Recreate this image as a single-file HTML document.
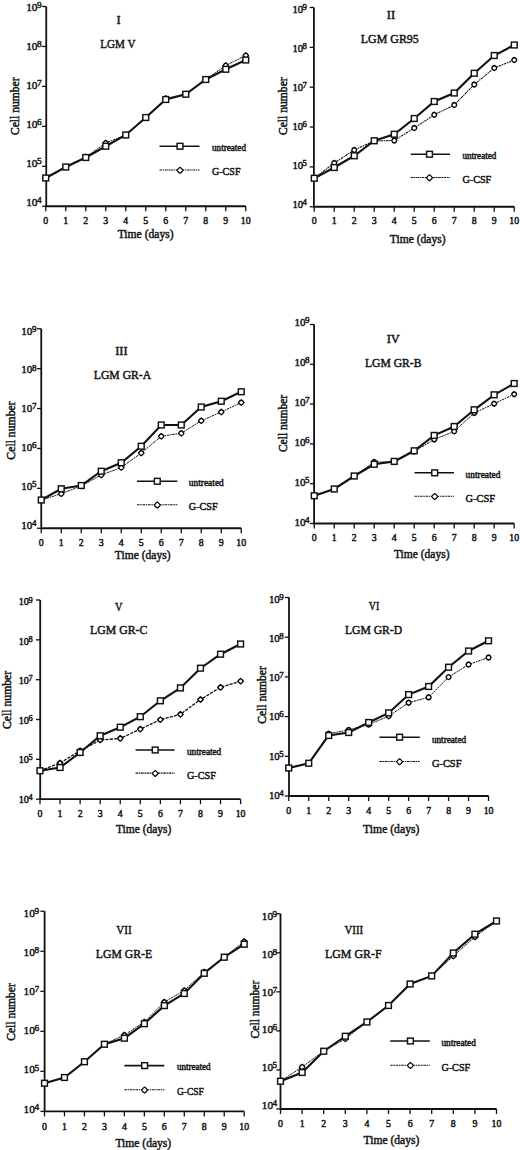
<!DOCTYPE html>
<html><head><meta charset="utf-8"><style>
html,body{margin:0;padding:0;background:#fff;}
svg{display:block;}
text{font-family:"Liberation Serif", serif;fill:#111;}
</style></head><body>
<svg width="520" height="1150" viewBox="0 0 520 1150">
<rect width="520" height="1150" fill="#fff"/>
<path d="M46.25 6.50V206.25H245.75" fill="none" stroke="#111" stroke-width="1.8"/>
<path d="M42.05 206.25H46.25" stroke="#111" stroke-width="1.3"/>
<text x="37.50" y="205.95" font-size="11.3" text-anchor="end" stroke="#111" stroke-width="0.45">10</text>
<text x="37.10" y="203.05" font-size="9.27" stroke="#111" stroke-width="0.45">4</text>
<path d="M42.05 166.30H46.25" stroke="#111" stroke-width="1.3"/>
<text x="37.50" y="167.00" font-size="11.3" text-anchor="end" stroke="#111" stroke-width="0.45">10</text>
<text x="37.10" y="164.10" font-size="9.27" stroke="#111" stroke-width="0.45">5</text>
<path d="M42.05 126.35H46.25" stroke="#111" stroke-width="1.3"/>
<text x="37.50" y="128.05" font-size="11.3" text-anchor="end" stroke="#111" stroke-width="0.45">10</text>
<text x="37.10" y="125.15" font-size="9.27" stroke="#111" stroke-width="0.45">6</text>
<path d="M42.05 86.40H46.25" stroke="#111" stroke-width="1.3"/>
<text x="37.50" y="89.10" font-size="11.3" text-anchor="end" stroke="#111" stroke-width="0.45">10</text>
<text x="37.10" y="86.20" font-size="9.27" stroke="#111" stroke-width="0.45">7</text>
<path d="M42.05 46.45H46.25" stroke="#111" stroke-width="1.3"/>
<text x="37.50" y="50.15" font-size="11.3" text-anchor="end" stroke="#111" stroke-width="0.45">10</text>
<text x="37.10" y="47.25" font-size="9.27" stroke="#111" stroke-width="0.45">8</text>
<path d="M42.05 6.50H46.25" stroke="#111" stroke-width="1.3"/>
<text x="37.50" y="11.20" font-size="11.3" text-anchor="end" stroke="#111" stroke-width="0.45">10</text>
<text x="37.10" y="8.30" font-size="9.27" stroke="#111" stroke-width="0.45">9</text>
<path d="M45.75 206.25V211.25" stroke="#111" stroke-width="1.3"/>
<text x="45.75" y="223.55" font-size="9.8" text-anchor="middle" stroke="#111" stroke-width="0.45">0</text>
<path d="M65.75 206.25V211.25" stroke="#111" stroke-width="1.3"/>
<text x="65.75" y="223.55" font-size="9.8" text-anchor="middle" stroke="#111" stroke-width="0.45">1</text>
<path d="M85.75 206.25V211.25" stroke="#111" stroke-width="1.3"/>
<text x="85.75" y="223.55" font-size="9.8" text-anchor="middle" stroke="#111" stroke-width="0.45">2</text>
<path d="M105.75 206.25V211.25" stroke="#111" stroke-width="1.3"/>
<text x="105.75" y="223.55" font-size="9.8" text-anchor="middle" stroke="#111" stroke-width="0.45">3</text>
<path d="M125.75 206.25V211.25" stroke="#111" stroke-width="1.3"/>
<text x="125.75" y="223.55" font-size="9.8" text-anchor="middle" stroke="#111" stroke-width="0.45">4</text>
<path d="M145.75 206.25V211.25" stroke="#111" stroke-width="1.3"/>
<text x="145.75" y="223.55" font-size="9.8" text-anchor="middle" stroke="#111" stroke-width="0.45">5</text>
<path d="M165.75 206.25V211.25" stroke="#111" stroke-width="1.3"/>
<text x="165.75" y="223.55" font-size="9.8" text-anchor="middle" stroke="#111" stroke-width="0.45">6</text>
<path d="M185.75 206.25V211.25" stroke="#111" stroke-width="1.3"/>
<text x="185.75" y="223.55" font-size="9.8" text-anchor="middle" stroke="#111" stroke-width="0.45">7</text>
<path d="M205.75 206.25V211.25" stroke="#111" stroke-width="1.3"/>
<text x="205.75" y="223.55" font-size="9.8" text-anchor="middle" stroke="#111" stroke-width="0.45">8</text>
<path d="M225.75 206.25V211.25" stroke="#111" stroke-width="1.3"/>
<text x="225.75" y="223.55" font-size="9.8" text-anchor="middle" stroke="#111" stroke-width="0.45">9</text>
<path d="M245.75 206.25V211.25" stroke="#111" stroke-width="1.3"/>
<text x="245.75" y="223.55" font-size="9.8" text-anchor="middle" stroke="#111" stroke-width="0.45">10</text>
<text x="118.70" y="24.00" font-size="12.5" text-anchor="middle" stroke="#111" stroke-width="0.45">I</text>
<text x="100.20" y="48.00" font-size="12.5" textLength="35.2" lengthAdjust="spacingAndGlyphs" stroke="#111" stroke-width="0.45">LGM V</text>
<text x="117.70" y="237.90" font-size="12" textLength="56" lengthAdjust="spacingAndGlyphs" stroke="#111" stroke-width="0.45">Time (days)</text>
<text transform="translate(19.20 106.25) rotate(-90)" x="0" y="0" font-size="12" text-anchor="middle" textLength="57.5" lengthAdjust="spacingAndGlyphs" stroke="#111" stroke-width="0.45">Cell number</text>
<polyline points="45.75,178.00 65.75,167.00 85.75,157.00 105.75,143.00 125.75,135.00 145.75,117.50 165.75,98.50 185.75,94.00 205.75,79.50 225.75,65.50 245.75,55.50" fill="none" stroke="#111" stroke-width="1.0" stroke-dasharray="2.6 0.7 1.5 0.7"/>
<polyline points="45.75,178.00 65.75,167.00 85.75,157.50 105.75,146.25 125.75,135.00 145.75,117.50 165.75,99.50 185.75,94.25 205.75,79.50 225.75,69.25 245.75,60.00" fill="none" stroke="#111" stroke-width="2.1"/>
<path d="M45.75 175.30Q47.51 176.25 48.45 178.00Q47.51 179.75 45.75 180.70Q43.99 179.75 43.05 178.00Q43.99 176.25 45.75 175.30Z" fill="#fff" stroke="#000" stroke-width="1.4" stroke-linejoin="round"/>
<path d="M65.75 164.30Q67.50 165.25 68.45 167.00Q67.50 168.75 65.75 169.70Q63.99 168.75 63.05 167.00Q63.99 165.25 65.75 164.30Z" fill="#fff" stroke="#000" stroke-width="1.4" stroke-linejoin="round"/>
<path d="M85.75 154.30Q87.50 155.25 88.45 157.00Q87.50 158.75 85.75 159.70Q84.00 158.75 83.05 157.00Q84.00 155.25 85.75 154.30Z" fill="#fff" stroke="#000" stroke-width="1.4" stroke-linejoin="round"/>
<path d="M105.75 140.30Q107.50 141.25 108.45 143.00Q107.50 144.75 105.75 145.70Q104.00 144.75 103.05 143.00Q104.00 141.25 105.75 140.30Z" fill="#fff" stroke="#000" stroke-width="1.4" stroke-linejoin="round"/>
<path d="M125.75 132.30Q127.50 133.25 128.45 135.00Q127.50 136.75 125.75 137.70Q124.00 136.75 123.05 135.00Q124.00 133.25 125.75 132.30Z" fill="#fff" stroke="#000" stroke-width="1.4" stroke-linejoin="round"/>
<path d="M145.75 114.80Q147.50 115.75 148.45 117.50Q147.50 119.25 145.75 120.20Q144.00 119.25 143.05 117.50Q144.00 115.75 145.75 114.80Z" fill="#fff" stroke="#000" stroke-width="1.4" stroke-linejoin="round"/>
<path d="M165.75 95.80Q167.50 96.75 168.45 98.50Q167.50 100.25 165.75 101.20Q164.00 100.25 163.05 98.50Q164.00 96.75 165.75 95.80Z" fill="#fff" stroke="#000" stroke-width="1.4" stroke-linejoin="round"/>
<path d="M185.75 91.30Q187.50 92.25 188.45 94.00Q187.50 95.75 185.75 96.70Q184.00 95.75 183.05 94.00Q184.00 92.25 185.75 91.30Z" fill="#fff" stroke="#000" stroke-width="1.4" stroke-linejoin="round"/>
<path d="M205.75 76.80Q207.50 77.75 208.45 79.50Q207.50 81.25 205.75 82.20Q204.00 81.25 203.05 79.50Q204.00 77.75 205.75 76.80Z" fill="#fff" stroke="#000" stroke-width="1.4" stroke-linejoin="round"/>
<path d="M225.75 62.80Q227.50 63.74 228.45 65.50Q227.50 67.25 225.75 68.20Q224.00 67.25 223.05 65.50Q224.00 63.74 225.75 62.80Z" fill="#fff" stroke="#000" stroke-width="1.4" stroke-linejoin="round"/>
<path d="M245.75 52.80Q247.50 53.74 248.45 55.50Q247.50 57.26 245.75 58.20Q244.00 57.26 243.05 55.50Q244.00 53.74 245.75 52.80Z" fill="#fff" stroke="#000" stroke-width="1.4" stroke-linejoin="round"/>
<rect x="42.85" y="175.10" width="5.8" height="5.8" fill="#fff" stroke="#111" stroke-width="1.45"/>
<rect x="62.85" y="164.10" width="5.8" height="5.8" fill="#fff" stroke="#111" stroke-width="1.45"/>
<rect x="82.85" y="154.60" width="5.8" height="5.8" fill="#fff" stroke="#111" stroke-width="1.45"/>
<rect x="102.85" y="143.35" width="5.8" height="5.8" fill="#fff" stroke="#111" stroke-width="1.45"/>
<rect x="122.85" y="132.10" width="5.8" height="5.8" fill="#fff" stroke="#111" stroke-width="1.45"/>
<rect x="142.85" y="114.60" width="5.8" height="5.8" fill="#fff" stroke="#111" stroke-width="1.45"/>
<rect x="162.85" y="96.60" width="5.8" height="5.8" fill="#fff" stroke="#111" stroke-width="1.45"/>
<rect x="182.85" y="91.35" width="5.8" height="5.8" fill="#fff" stroke="#111" stroke-width="1.45"/>
<rect x="202.85" y="76.60" width="5.8" height="5.8" fill="#fff" stroke="#111" stroke-width="1.45"/>
<rect x="222.85" y="66.35" width="5.8" height="5.8" fill="#fff" stroke="#111" stroke-width="1.45"/>
<rect x="242.85" y="57.10" width="5.8" height="5.8" fill="#fff" stroke="#111" stroke-width="1.45"/>
<path d="M159.50 146.25H199.50" stroke="#111" stroke-width="1.6"/>
<rect x="177.10" y="143.35" width="5.8" height="5.8" fill="#fff" stroke="#111" stroke-width="1.45"/>
<path d="M159.50 170.00H199.50" stroke="#111" stroke-width="1.05" stroke-dasharray="2.6 0.7 1.5 0.7"/>
<path d="M180.00 167.30Q181.80 168.50 183.00 170.30Q181.80 172.10 180.00 173.30Q178.20 172.10 177.00 170.30Q178.20 168.50 180.00 167.30Z" fill="#fff" stroke="#000" stroke-width="1.2" stroke-linejoin="round"/>
<text x="212.00" y="150.80" font-size="9.6" textLength="34" lengthAdjust="spacingAndGlyphs" stroke="#111" stroke-width="0.45">untreated</text>
<text x="212.00" y="175.40" font-size="10.2" textLength="28.5" lengthAdjust="spacingAndGlyphs" stroke="#111" stroke-width="0.45">G-CSF</text>
<path d="M313.90 7.50V206.75H514.25" fill="none" stroke="#111" stroke-width="1.8"/>
<path d="M309.70 206.75H313.90" stroke="#111" stroke-width="1.3"/>
<text x="303.00" y="208.20" font-size="10.6" text-anchor="end" stroke="#111" stroke-width="0.45">10</text>
<text x="302.60" y="205.30" font-size="8.69" stroke="#111" stroke-width="0.45">4</text>
<path d="M309.70 166.90H313.90" stroke="#111" stroke-width="1.3"/>
<text x="303.00" y="169.12" font-size="10.6" text-anchor="end" stroke="#111" stroke-width="0.45">10</text>
<text x="302.60" y="166.22" font-size="8.69" stroke="#111" stroke-width="0.45">5</text>
<path d="M309.70 127.05H313.90" stroke="#111" stroke-width="1.3"/>
<text x="303.00" y="130.04" font-size="10.6" text-anchor="end" stroke="#111" stroke-width="0.45">10</text>
<text x="302.60" y="127.14" font-size="8.69" stroke="#111" stroke-width="0.45">6</text>
<path d="M309.70 87.20H313.90" stroke="#111" stroke-width="1.3"/>
<text x="303.00" y="90.96" font-size="10.6" text-anchor="end" stroke="#111" stroke-width="0.45">10</text>
<text x="302.60" y="88.06" font-size="8.69" stroke="#111" stroke-width="0.45">7</text>
<path d="M309.70 47.35H313.90" stroke="#111" stroke-width="1.3"/>
<text x="303.00" y="51.88" font-size="10.6" text-anchor="end" stroke="#111" stroke-width="0.45">10</text>
<text x="302.60" y="48.98" font-size="8.69" stroke="#111" stroke-width="0.45">8</text>
<path d="M309.70 7.50H313.90" stroke="#111" stroke-width="1.3"/>
<text x="303.00" y="12.80" font-size="10.6" text-anchor="end" stroke="#111" stroke-width="0.45">10</text>
<text x="302.60" y="9.90" font-size="8.69" stroke="#111" stroke-width="0.45">9</text>
<path d="M314.25 206.75V211.75" stroke="#111" stroke-width="1.3"/>
<text x="314.25" y="224.05" font-size="9.8" text-anchor="middle" stroke="#111" stroke-width="0.45">0</text>
<path d="M334.25 206.75V211.75" stroke="#111" stroke-width="1.3"/>
<text x="334.25" y="224.05" font-size="9.8" text-anchor="middle" stroke="#111" stroke-width="0.45">1</text>
<path d="M354.25 206.75V211.75" stroke="#111" stroke-width="1.3"/>
<text x="354.25" y="224.05" font-size="9.8" text-anchor="middle" stroke="#111" stroke-width="0.45">2</text>
<path d="M374.25 206.75V211.75" stroke="#111" stroke-width="1.3"/>
<text x="374.25" y="224.05" font-size="9.8" text-anchor="middle" stroke="#111" stroke-width="0.45">3</text>
<path d="M394.25 206.75V211.75" stroke="#111" stroke-width="1.3"/>
<text x="394.25" y="224.05" font-size="9.8" text-anchor="middle" stroke="#111" stroke-width="0.45">4</text>
<path d="M414.25 206.75V211.75" stroke="#111" stroke-width="1.3"/>
<text x="414.25" y="224.05" font-size="9.8" text-anchor="middle" stroke="#111" stroke-width="0.45">5</text>
<path d="M434.25 206.75V211.75" stroke="#111" stroke-width="1.3"/>
<text x="434.25" y="224.05" font-size="9.8" text-anchor="middle" stroke="#111" stroke-width="0.45">6</text>
<path d="M454.25 206.75V211.75" stroke="#111" stroke-width="1.3"/>
<text x="454.25" y="224.05" font-size="9.8" text-anchor="middle" stroke="#111" stroke-width="0.45">7</text>
<path d="M474.25 206.75V211.75" stroke="#111" stroke-width="1.3"/>
<text x="474.25" y="224.05" font-size="9.8" text-anchor="middle" stroke="#111" stroke-width="0.45">8</text>
<path d="M494.25 206.75V211.75" stroke="#111" stroke-width="1.3"/>
<text x="494.25" y="224.05" font-size="9.8" text-anchor="middle" stroke="#111" stroke-width="0.45">9</text>
<path d="M514.25 206.75V211.75" stroke="#111" stroke-width="1.3"/>
<text x="514.25" y="224.05" font-size="9.8" text-anchor="middle" stroke="#111" stroke-width="0.45">10</text>
<text x="391.00" y="19.20" font-size="12.5" text-anchor="middle" stroke="#111" stroke-width="0.45">II</text>
<text x="360.80" y="43.30" font-size="12.5" textLength="58" lengthAdjust="spacingAndGlyphs" stroke="#111" stroke-width="0.45">LGM GR95</text>
<text x="389.80" y="243.30" font-size="12" textLength="55.8" lengthAdjust="spacingAndGlyphs" stroke="#111" stroke-width="0.45">Time (days)</text>
<text transform="translate(286.70 106.20) rotate(-90)" x="0" y="0" font-size="12" text-anchor="middle" textLength="57.7" lengthAdjust="spacingAndGlyphs" stroke="#111" stroke-width="0.45">Cell number</text>
<polyline points="314.25,178.25 334.25,163.00 354.25,150.00 374.25,141.00 394.25,140.50 414.25,128.00 434.25,114.75 454.25,105.00 474.25,84.50 494.25,68.00 514.25,60.00" fill="none" stroke="#111" stroke-width="1.05" stroke-dasharray="2.6 0.7 1.5 0.7"/>
<polyline points="314.25,178.25 334.25,167.50 354.25,155.75 374.25,140.75 394.25,134.25 414.25,118.50 434.25,101.50 454.25,93.00 474.25,73.25 494.25,55.50 514.25,45.00" fill="none" stroke="#111" stroke-width="2.1"/>
<path d="M314.25 175.75Q316.38 176.12 316.75 178.25Q316.38 180.38 314.25 180.75Q312.12 180.38 311.75 178.25Q312.12 176.12 314.25 175.75Z" fill="#fff" stroke="#000" stroke-width="1.4" stroke-linejoin="round"/>
<path d="M334.25 160.50Q336.38 160.88 336.75 163.00Q336.38 165.12 334.25 165.50Q332.12 165.12 331.75 163.00Q332.12 160.88 334.25 160.50Z" fill="#fff" stroke="#000" stroke-width="1.4" stroke-linejoin="round"/>
<path d="M354.25 147.50Q356.38 147.88 356.75 150.00Q356.38 152.12 354.25 152.50Q352.12 152.12 351.75 150.00Q352.12 147.88 354.25 147.50Z" fill="#fff" stroke="#000" stroke-width="1.4" stroke-linejoin="round"/>
<path d="M374.25 138.50Q376.38 138.88 376.75 141.00Q376.38 143.12 374.25 143.50Q372.12 143.12 371.75 141.00Q372.12 138.88 374.25 138.50Z" fill="#fff" stroke="#000" stroke-width="1.4" stroke-linejoin="round"/>
<path d="M394.25 138.00Q396.38 138.38 396.75 140.50Q396.38 142.62 394.25 143.00Q392.12 142.62 391.75 140.50Q392.12 138.38 394.25 138.00Z" fill="#fff" stroke="#000" stroke-width="1.4" stroke-linejoin="round"/>
<path d="M414.25 125.50Q416.38 125.88 416.75 128.00Q416.38 130.12 414.25 130.50Q412.12 130.12 411.75 128.00Q412.12 125.88 414.25 125.50Z" fill="#fff" stroke="#000" stroke-width="1.4" stroke-linejoin="round"/>
<path d="M434.25 112.25Q436.38 112.62 436.75 114.75Q436.38 116.88 434.25 117.25Q432.12 116.88 431.75 114.75Q432.12 112.62 434.25 112.25Z" fill="#fff" stroke="#000" stroke-width="1.4" stroke-linejoin="round"/>
<path d="M454.25 102.50Q456.38 102.88 456.75 105.00Q456.38 107.12 454.25 107.50Q452.12 107.12 451.75 105.00Q452.12 102.88 454.25 102.50Z" fill="#fff" stroke="#000" stroke-width="1.4" stroke-linejoin="round"/>
<path d="M474.25 82.00Q476.38 82.38 476.75 84.50Q476.38 86.62 474.25 87.00Q472.12 86.62 471.75 84.50Q472.12 82.38 474.25 82.00Z" fill="#fff" stroke="#000" stroke-width="1.4" stroke-linejoin="round"/>
<path d="M494.25 65.50Q496.38 65.88 496.75 68.00Q496.38 70.12 494.25 70.50Q492.12 70.12 491.75 68.00Q492.12 65.88 494.25 65.50Z" fill="#fff" stroke="#000" stroke-width="1.4" stroke-linejoin="round"/>
<path d="M514.25 57.50Q516.38 57.88 516.75 60.00Q516.38 62.12 514.25 62.50Q512.12 62.12 511.75 60.00Q512.12 57.88 514.25 57.50Z" fill="#fff" stroke="#000" stroke-width="1.4" stroke-linejoin="round"/>
<rect x="311.35" y="175.35" width="5.8" height="5.8" fill="#fff" stroke="#111" stroke-width="1.45"/>
<rect x="331.35" y="164.60" width="5.8" height="5.8" fill="#fff" stroke="#111" stroke-width="1.45"/>
<rect x="351.35" y="152.85" width="5.8" height="5.8" fill="#fff" stroke="#111" stroke-width="1.45"/>
<rect x="371.35" y="137.85" width="5.8" height="5.8" fill="#fff" stroke="#111" stroke-width="1.45"/>
<rect x="391.35" y="131.35" width="5.8" height="5.8" fill="#fff" stroke="#111" stroke-width="1.45"/>
<rect x="411.35" y="115.60" width="5.8" height="5.8" fill="#fff" stroke="#111" stroke-width="1.45"/>
<rect x="431.35" y="98.60" width="5.8" height="5.8" fill="#fff" stroke="#111" stroke-width="1.45"/>
<rect x="451.35" y="90.10" width="5.8" height="5.8" fill="#fff" stroke="#111" stroke-width="1.45"/>
<rect x="471.35" y="70.35" width="5.8" height="5.8" fill="#fff" stroke="#111" stroke-width="1.45"/>
<rect x="491.35" y="52.60" width="5.8" height="5.8" fill="#fff" stroke="#111" stroke-width="1.45"/>
<rect x="511.35" y="42.10" width="5.8" height="5.8" fill="#fff" stroke="#111" stroke-width="1.45"/>
<path d="M410.75 154.25H450.00" stroke="#111" stroke-width="1.6"/>
<rect x="426.60" y="151.35" width="5.8" height="5.8" fill="#fff" stroke="#111" stroke-width="1.45"/>
<path d="M410.75 177.50H450.00" stroke="#111" stroke-width="1.05" stroke-dasharray="2.6 0.7 1.5 0.7"/>
<path d="M429.50 174.80Q431.30 176.00 432.50 177.80Q431.30 179.60 429.50 180.80Q427.70 179.60 426.50 177.80Q427.70 176.00 429.50 174.80Z" fill="#fff" stroke="#000" stroke-width="1.2" stroke-linejoin="round"/>
<text x="462.50" y="159.20" font-size="9.6" textLength="33.75" lengthAdjust="spacingAndGlyphs" stroke="#111" stroke-width="0.45">untreated</text>
<text x="462.50" y="183.40" font-size="10.2" textLength="28.75" lengthAdjust="spacingAndGlyphs" stroke="#111" stroke-width="0.45">G-CSF</text>
<path d="M41.25 328.75V528.25H241.25" fill="none" stroke="#111" stroke-width="1.8"/>
<path d="M37.05 528.25H41.25" stroke="#111" stroke-width="1.3"/>
<text x="32.35" y="528.65" font-size="11" text-anchor="end" stroke="#111" stroke-width="0.45">10</text>
<text x="31.95" y="525.75" font-size="9.02" stroke="#111" stroke-width="0.45">4</text>
<path d="M37.05 488.35H41.25" stroke="#111" stroke-width="1.3"/>
<text x="32.35" y="489.85" font-size="11" text-anchor="end" stroke="#111" stroke-width="0.45">10</text>
<text x="31.95" y="486.95" font-size="9.02" stroke="#111" stroke-width="0.45">5</text>
<path d="M37.05 448.45H41.25" stroke="#111" stroke-width="1.3"/>
<text x="32.35" y="451.05" font-size="11" text-anchor="end" stroke="#111" stroke-width="0.45">10</text>
<text x="31.95" y="448.15" font-size="9.02" stroke="#111" stroke-width="0.45">6</text>
<path d="M37.05 408.55H41.25" stroke="#111" stroke-width="1.3"/>
<text x="32.35" y="412.25" font-size="11" text-anchor="end" stroke="#111" stroke-width="0.45">10</text>
<text x="31.95" y="409.35" font-size="9.02" stroke="#111" stroke-width="0.45">7</text>
<path d="M37.05 368.65H41.25" stroke="#111" stroke-width="1.3"/>
<text x="32.35" y="373.45" font-size="11" text-anchor="end" stroke="#111" stroke-width="0.45">10</text>
<text x="31.95" y="370.55" font-size="9.02" stroke="#111" stroke-width="0.45">8</text>
<path d="M37.05 328.75H41.25" stroke="#111" stroke-width="1.3"/>
<text x="32.35" y="334.65" font-size="11" text-anchor="end" stroke="#111" stroke-width="0.45">10</text>
<text x="31.95" y="331.75" font-size="9.02" stroke="#111" stroke-width="0.45">9</text>
<path d="M41.25 528.25V533.25" stroke="#111" stroke-width="1.3"/>
<text x="41.25" y="545.55" font-size="9.8" text-anchor="middle" stroke="#111" stroke-width="0.45">0</text>
<path d="M61.25 528.25V533.25" stroke="#111" stroke-width="1.3"/>
<text x="61.25" y="545.55" font-size="9.8" text-anchor="middle" stroke="#111" stroke-width="0.45">1</text>
<path d="M81.25 528.25V533.25" stroke="#111" stroke-width="1.3"/>
<text x="81.25" y="545.55" font-size="9.8" text-anchor="middle" stroke="#111" stroke-width="0.45">2</text>
<path d="M101.25 528.25V533.25" stroke="#111" stroke-width="1.3"/>
<text x="101.25" y="545.55" font-size="9.8" text-anchor="middle" stroke="#111" stroke-width="0.45">3</text>
<path d="M121.25 528.25V533.25" stroke="#111" stroke-width="1.3"/>
<text x="121.25" y="545.55" font-size="9.8" text-anchor="middle" stroke="#111" stroke-width="0.45">4</text>
<path d="M141.25 528.25V533.25" stroke="#111" stroke-width="1.3"/>
<text x="141.25" y="545.55" font-size="9.8" text-anchor="middle" stroke="#111" stroke-width="0.45">5</text>
<path d="M161.25 528.25V533.25" stroke="#111" stroke-width="1.3"/>
<text x="161.25" y="545.55" font-size="9.8" text-anchor="middle" stroke="#111" stroke-width="0.45">6</text>
<path d="M181.25 528.25V533.25" stroke="#111" stroke-width="1.3"/>
<text x="181.25" y="545.55" font-size="9.8" text-anchor="middle" stroke="#111" stroke-width="0.45">7</text>
<path d="M201.25 528.25V533.25" stroke="#111" stroke-width="1.3"/>
<text x="201.25" y="545.55" font-size="9.8" text-anchor="middle" stroke="#111" stroke-width="0.45">8</text>
<path d="M221.25 528.25V533.25" stroke="#111" stroke-width="1.3"/>
<text x="221.25" y="545.55" font-size="9.8" text-anchor="middle" stroke="#111" stroke-width="0.45">9</text>
<path d="M241.25 528.25V533.25" stroke="#111" stroke-width="1.3"/>
<text x="241.25" y="545.55" font-size="9.8" text-anchor="middle" stroke="#111" stroke-width="0.45">10</text>
<text x="121.40" y="355.40" font-size="12.5" text-anchor="middle" stroke="#111" stroke-width="0.45">III</text>
<text x="93.80" y="379.00" font-size="12.5" textLength="57.4" lengthAdjust="spacingAndGlyphs" stroke="#111" stroke-width="0.45">LGM GR-A</text>
<text x="114.80" y="558.70" font-size="12" textLength="55.7" lengthAdjust="spacingAndGlyphs" stroke="#111" stroke-width="0.45">Time (days)</text>
<text transform="translate(14.60 430.50) rotate(-90)" x="0" y="0" font-size="12" text-anchor="middle" textLength="58.3" lengthAdjust="spacingAndGlyphs" stroke="#111" stroke-width="0.45">Cell number</text>
<polyline points="41.25,500.00 61.25,493.75 81.25,486.00 101.25,475.00 121.25,467.50 141.25,453.00 161.25,436.25 181.25,433.25 201.25,420.75 221.25,412.00 241.25,402.50" fill="none" stroke="#111" stroke-width="1.0" stroke-dasharray="2.6 0.7 1.5 0.7"/>
<polyline points="41.25,500.00 61.25,488.75 81.25,485.50 101.25,471.25 121.25,462.75 141.25,446.25 161.25,425.00 181.25,425.00 201.25,407.00 221.25,401.25 241.25,391.75" fill="none" stroke="#111" stroke-width="2.1"/>
<path d="M41.25 497.30Q43.01 498.25 43.95 500.00Q43.01 501.75 41.25 502.70Q39.49 501.75 38.55 500.00Q39.49 498.25 41.25 497.30Z" fill="#fff" stroke="#000" stroke-width="1.4" stroke-linejoin="round"/>
<path d="M61.25 491.05Q63.01 492.00 63.95 493.75Q63.01 495.50 61.25 496.45Q59.49 495.50 58.55 493.75Q59.49 492.00 61.25 491.05Z" fill="#fff" stroke="#000" stroke-width="1.4" stroke-linejoin="round"/>
<path d="M81.25 483.30Q83.00 484.25 83.95 486.00Q83.00 487.75 81.25 488.70Q79.50 487.75 78.55 486.00Q79.50 484.25 81.25 483.30Z" fill="#fff" stroke="#000" stroke-width="1.4" stroke-linejoin="round"/>
<path d="M101.25 472.30Q103.00 473.25 103.95 475.00Q103.00 476.75 101.25 477.70Q99.50 476.75 98.55 475.00Q99.50 473.25 101.25 472.30Z" fill="#fff" stroke="#000" stroke-width="1.4" stroke-linejoin="round"/>
<path d="M121.25 464.80Q123.00 465.75 123.95 467.50Q123.00 469.25 121.25 470.20Q119.50 469.25 118.55 467.50Q119.50 465.75 121.25 464.80Z" fill="#fff" stroke="#000" stroke-width="1.4" stroke-linejoin="round"/>
<path d="M141.25 450.30Q143.00 451.25 143.95 453.00Q143.00 454.75 141.25 455.70Q139.50 454.75 138.55 453.00Q139.50 451.25 141.25 450.30Z" fill="#fff" stroke="#000" stroke-width="1.4" stroke-linejoin="round"/>
<path d="M161.25 433.55Q163.00 434.50 163.95 436.25Q163.00 438.00 161.25 438.95Q159.50 438.00 158.55 436.25Q159.50 434.50 161.25 433.55Z" fill="#fff" stroke="#000" stroke-width="1.4" stroke-linejoin="round"/>
<path d="M181.25 430.55Q183.00 431.50 183.95 433.25Q183.00 435.00 181.25 435.95Q179.50 435.00 178.55 433.25Q179.50 431.50 181.25 430.55Z" fill="#fff" stroke="#000" stroke-width="1.4" stroke-linejoin="round"/>
<path d="M201.25 418.05Q203.00 419.00 203.95 420.75Q203.00 422.50 201.25 423.45Q199.50 422.50 198.55 420.75Q199.50 419.00 201.25 418.05Z" fill="#fff" stroke="#000" stroke-width="1.4" stroke-linejoin="round"/>
<path d="M221.25 409.30Q223.00 410.25 223.95 412.00Q223.00 413.75 221.25 414.70Q219.50 413.75 218.55 412.00Q219.50 410.25 221.25 409.30Z" fill="#fff" stroke="#000" stroke-width="1.4" stroke-linejoin="round"/>
<path d="M241.25 399.80Q243.00 400.75 243.95 402.50Q243.00 404.25 241.25 405.20Q239.50 404.25 238.55 402.50Q239.50 400.75 241.25 399.80Z" fill="#fff" stroke="#000" stroke-width="1.4" stroke-linejoin="round"/>
<rect x="38.35" y="497.10" width="5.8" height="5.8" fill="#fff" stroke="#111" stroke-width="1.45"/>
<rect x="58.35" y="485.85" width="5.8" height="5.8" fill="#fff" stroke="#111" stroke-width="1.45"/>
<rect x="78.35" y="482.60" width="5.8" height="5.8" fill="#fff" stroke="#111" stroke-width="1.45"/>
<rect x="98.35" y="468.35" width="5.8" height="5.8" fill="#fff" stroke="#111" stroke-width="1.45"/>
<rect x="118.35" y="459.85" width="5.8" height="5.8" fill="#fff" stroke="#111" stroke-width="1.45"/>
<rect x="138.35" y="443.35" width="5.8" height="5.8" fill="#fff" stroke="#111" stroke-width="1.45"/>
<rect x="158.35" y="422.10" width="5.8" height="5.8" fill="#fff" stroke="#111" stroke-width="1.45"/>
<rect x="178.35" y="422.10" width="5.8" height="5.8" fill="#fff" stroke="#111" stroke-width="1.45"/>
<rect x="198.35" y="404.10" width="5.8" height="5.8" fill="#fff" stroke="#111" stroke-width="1.45"/>
<rect x="218.35" y="398.35" width="5.8" height="5.8" fill="#fff" stroke="#111" stroke-width="1.45"/>
<rect x="238.35" y="388.85" width="5.8" height="5.8" fill="#fff" stroke="#111" stroke-width="1.45"/>
<path d="M137.00 481.25H177.30" stroke="#111" stroke-width="1.6"/>
<rect x="154.40" y="478.35" width="5.8" height="5.8" fill="#fff" stroke="#111" stroke-width="1.45"/>
<path d="M137.00 504.80H177.30" stroke="#111" stroke-width="1.05" stroke-dasharray="2.6 0.7 1.5 0.7"/>
<path d="M157.30 502.10Q159.10 503.30 160.30 505.10Q159.10 506.90 157.30 508.10Q155.50 506.90 154.30 505.10Q155.50 503.30 157.30 502.10Z" fill="#fff" stroke="#000" stroke-width="1.2" stroke-linejoin="round"/>
<text x="188.80" y="485.70" font-size="9.6" textLength="35" lengthAdjust="spacingAndGlyphs" stroke="#111" stroke-width="0.45">untreated</text>
<text x="188.80" y="510.10" font-size="10.2" textLength="28.8" lengthAdjust="spacingAndGlyphs" stroke="#111" stroke-width="0.45">G-CSF</text>
<path d="M314.10 324.50V523.50H514.15" fill="none" stroke="#111" stroke-width="1.8"/>
<path d="M309.90 523.50H314.10" stroke="#111" stroke-width="1.3"/>
<text x="305.50" y="526.30" font-size="11" text-anchor="end" stroke="#111" stroke-width="0.45">10</text>
<text x="305.10" y="523.40" font-size="9.02" stroke="#111" stroke-width="0.45">4</text>
<path d="M309.90 483.70H314.10" stroke="#111" stroke-width="1.3"/>
<text x="305.50" y="486.28" font-size="11" text-anchor="end" stroke="#111" stroke-width="0.45">10</text>
<text x="305.10" y="483.38" font-size="9.02" stroke="#111" stroke-width="0.45">5</text>
<path d="M309.90 443.90H314.10" stroke="#111" stroke-width="1.3"/>
<text x="305.50" y="446.26" font-size="11" text-anchor="end" stroke="#111" stroke-width="0.45">10</text>
<text x="305.10" y="443.36" font-size="9.02" stroke="#111" stroke-width="0.45">6</text>
<path d="M309.90 404.10H314.10" stroke="#111" stroke-width="1.3"/>
<text x="305.50" y="406.24" font-size="11" text-anchor="end" stroke="#111" stroke-width="0.45">10</text>
<text x="305.10" y="403.34" font-size="9.02" stroke="#111" stroke-width="0.45">7</text>
<path d="M309.90 364.30H314.10" stroke="#111" stroke-width="1.3"/>
<text x="305.50" y="366.22" font-size="11" text-anchor="end" stroke="#111" stroke-width="0.45">10</text>
<text x="305.10" y="363.32" font-size="9.02" stroke="#111" stroke-width="0.45">8</text>
<path d="M309.90 324.50H314.10" stroke="#111" stroke-width="1.3"/>
<text x="305.50" y="326.20" font-size="11" text-anchor="end" stroke="#111" stroke-width="0.45">10</text>
<text x="305.10" y="323.30" font-size="9.02" stroke="#111" stroke-width="0.45">9</text>
<path d="M314.25 523.50V528.50" stroke="#111" stroke-width="1.3"/>
<text x="314.25" y="540.80" font-size="9.8" text-anchor="middle" stroke="#111" stroke-width="0.45">0</text>
<path d="M334.24 523.50V528.50" stroke="#111" stroke-width="1.3"/>
<text x="334.24" y="540.80" font-size="9.8" text-anchor="middle" stroke="#111" stroke-width="0.45">1</text>
<path d="M354.23 523.50V528.50" stroke="#111" stroke-width="1.3"/>
<text x="354.23" y="540.80" font-size="9.8" text-anchor="middle" stroke="#111" stroke-width="0.45">2</text>
<path d="M374.22 523.50V528.50" stroke="#111" stroke-width="1.3"/>
<text x="374.22" y="540.80" font-size="9.8" text-anchor="middle" stroke="#111" stroke-width="0.45">3</text>
<path d="M394.21 523.50V528.50" stroke="#111" stroke-width="1.3"/>
<text x="394.21" y="540.80" font-size="9.8" text-anchor="middle" stroke="#111" stroke-width="0.45">4</text>
<path d="M414.20 523.50V528.50" stroke="#111" stroke-width="1.3"/>
<text x="414.20" y="540.80" font-size="9.8" text-anchor="middle" stroke="#111" stroke-width="0.45">5</text>
<path d="M434.19 523.50V528.50" stroke="#111" stroke-width="1.3"/>
<text x="434.19" y="540.80" font-size="9.8" text-anchor="middle" stroke="#111" stroke-width="0.45">6</text>
<path d="M454.18 523.50V528.50" stroke="#111" stroke-width="1.3"/>
<text x="454.18" y="540.80" font-size="9.8" text-anchor="middle" stroke="#111" stroke-width="0.45">7</text>
<path d="M474.17 523.50V528.50" stroke="#111" stroke-width="1.3"/>
<text x="474.17" y="540.80" font-size="9.8" text-anchor="middle" stroke="#111" stroke-width="0.45">8</text>
<path d="M494.16 523.50V528.50" stroke="#111" stroke-width="1.3"/>
<text x="494.16" y="540.80" font-size="9.8" text-anchor="middle" stroke="#111" stroke-width="0.45">9</text>
<path d="M514.15 523.50V528.50" stroke="#111" stroke-width="1.3"/>
<text x="514.15" y="540.80" font-size="9.8" text-anchor="middle" stroke="#111" stroke-width="0.45">10</text>
<text x="393.30" y="342.50" font-size="12.5" text-anchor="middle" stroke="#111" stroke-width="0.45">IV</text>
<text x="365.00" y="366.50" font-size="12.5" textLength="56.5" lengthAdjust="spacingAndGlyphs" stroke="#111" stroke-width="0.45">LGM GR-B</text>
<text x="394.00" y="558.30" font-size="12" textLength="55.5" lengthAdjust="spacingAndGlyphs" stroke="#111" stroke-width="0.45">Time (days)</text>
<text transform="translate(286.70 423.50) rotate(-90)" x="0" y="0" font-size="12" text-anchor="middle" textLength="57.1" lengthAdjust="spacingAndGlyphs" stroke="#111" stroke-width="0.45">Cell number</text>
<polyline points="314.25,495.75 334.24,489.00 354.23,476.00 374.22,462.00 394.21,462.00 414.20,451.50 434.19,439.50 454.18,431.40 474.17,413.00 494.16,403.70 514.15,394.20" fill="none" stroke="#111" stroke-width="1.0" stroke-dasharray="2.6 0.7 1.5 0.7"/>
<polyline points="314.25,495.75 334.24,489.00 354.23,476.00 374.22,464.25 394.21,461.40 414.20,450.80 434.19,435.40 454.18,426.50 474.17,409.80 494.16,394.80 514.15,383.50" fill="none" stroke="#111" stroke-width="2.1"/>
<path d="M314.25 493.25Q316.25 493.75 316.75 495.75Q316.25 497.75 314.25 498.25Q312.25 497.75 311.75 495.75Q312.25 493.75 314.25 493.25Z" fill="#fff" stroke="#000" stroke-width="1.4" stroke-linejoin="round"/>
<path d="M334.24 486.50Q336.24 487.00 336.74 489.00Q336.24 491.00 334.24 491.50Q332.24 491.00 331.74 489.00Q332.24 487.00 334.24 486.50Z" fill="#fff" stroke="#000" stroke-width="1.4" stroke-linejoin="round"/>
<path d="M354.23 473.50Q356.23 474.00 356.73 476.00Q356.23 478.00 354.23 478.50Q352.23 478.00 351.73 476.00Q352.23 474.00 354.23 473.50Z" fill="#fff" stroke="#000" stroke-width="1.4" stroke-linejoin="round"/>
<path d="M374.22 459.50Q376.22 460.00 376.72 462.00Q376.22 464.00 374.22 464.50Q372.22 464.00 371.72 462.00Q372.22 460.00 374.22 459.50Z" fill="#fff" stroke="#000" stroke-width="1.4" stroke-linejoin="round"/>
<path d="M394.21 459.50Q396.21 460.00 396.71 462.00Q396.21 464.00 394.21 464.50Q392.21 464.00 391.71 462.00Q392.21 460.00 394.21 459.50Z" fill="#fff" stroke="#000" stroke-width="1.4" stroke-linejoin="round"/>
<path d="M414.20 449.00Q416.20 449.50 416.70 451.50Q416.20 453.50 414.20 454.00Q412.20 453.50 411.70 451.50Q412.20 449.50 414.20 449.00Z" fill="#fff" stroke="#000" stroke-width="1.4" stroke-linejoin="round"/>
<path d="M434.19 437.00Q436.19 437.50 436.69 439.50Q436.19 441.50 434.19 442.00Q432.19 441.50 431.69 439.50Q432.19 437.50 434.19 437.00Z" fill="#fff" stroke="#000" stroke-width="1.4" stroke-linejoin="round"/>
<path d="M454.18 428.90Q456.18 429.40 456.68 431.40Q456.18 433.40 454.18 433.90Q452.18 433.40 451.68 431.40Q452.18 429.40 454.18 428.90Z" fill="#fff" stroke="#000" stroke-width="1.4" stroke-linejoin="round"/>
<path d="M474.17 410.50Q476.17 411.00 476.67 413.00Q476.17 415.00 474.17 415.50Q472.17 415.00 471.67 413.00Q472.17 411.00 474.17 410.50Z" fill="#fff" stroke="#000" stroke-width="1.4" stroke-linejoin="round"/>
<path d="M494.16 401.20Q496.16 401.70 496.66 403.70Q496.16 405.70 494.16 406.20Q492.16 405.70 491.66 403.70Q492.16 401.70 494.16 401.20Z" fill="#fff" stroke="#000" stroke-width="1.4" stroke-linejoin="round"/>
<path d="M514.15 391.70Q516.15 392.20 516.65 394.20Q516.15 396.20 514.15 396.70Q512.15 396.20 511.65 394.20Q512.15 392.20 514.15 391.70Z" fill="#fff" stroke="#000" stroke-width="1.4" stroke-linejoin="round"/>
<rect x="311.35" y="492.85" width="5.8" height="5.8" fill="#fff" stroke="#111" stroke-width="1.45"/>
<rect x="331.34" y="486.10" width="5.8" height="5.8" fill="#fff" stroke="#111" stroke-width="1.45"/>
<rect x="351.33" y="473.10" width="5.8" height="5.8" fill="#fff" stroke="#111" stroke-width="1.45"/>
<rect x="371.32" y="461.35" width="5.8" height="5.8" fill="#fff" stroke="#111" stroke-width="1.45"/>
<rect x="391.31" y="458.50" width="5.8" height="5.8" fill="#fff" stroke="#111" stroke-width="1.45"/>
<rect x="411.30" y="447.90" width="5.8" height="5.8" fill="#fff" stroke="#111" stroke-width="1.45"/>
<rect x="431.29" y="432.50" width="5.8" height="5.8" fill="#fff" stroke="#111" stroke-width="1.45"/>
<rect x="451.28" y="423.60" width="5.8" height="5.8" fill="#fff" stroke="#111" stroke-width="1.45"/>
<rect x="471.27" y="406.90" width="5.8" height="5.8" fill="#fff" stroke="#111" stroke-width="1.45"/>
<rect x="491.26" y="391.90" width="5.8" height="5.8" fill="#fff" stroke="#111" stroke-width="1.45"/>
<rect x="511.25" y="380.60" width="5.8" height="5.8" fill="#fff" stroke="#111" stroke-width="1.45"/>
<path d="M414.50 472.80H454.00" stroke="#111" stroke-width="1.6"/>
<rect x="431.80" y="469.90" width="5.8" height="5.8" fill="#fff" stroke="#111" stroke-width="1.45"/>
<path d="M414.50 496.30H454.00" stroke="#111" stroke-width="1.05" stroke-dasharray="2.6 0.7 1.5 0.7"/>
<path d="M434.70 493.60Q436.50 494.80 437.70 496.60Q436.50 498.40 434.70 499.60Q432.90 498.40 431.70 496.60Q432.90 494.80 434.70 493.60Z" fill="#fff" stroke="#000" stroke-width="1.2" stroke-linejoin="round"/>
<text x="465.60" y="478.20" font-size="9.6" textLength="34.8" lengthAdjust="spacingAndGlyphs" stroke="#111" stroke-width="0.45">untreated</text>
<text x="465.60" y="501.90" font-size="10.2" textLength="29.6" lengthAdjust="spacingAndGlyphs" stroke="#111" stroke-width="0.45">G-CSF</text>
<path d="M40.20 600.00V799.20H240.60" fill="none" stroke="#111" stroke-width="1.8"/>
<path d="M36.00 799.20H40.20" stroke="#111" stroke-width="1.3"/>
<text x="28.90" y="802.80" font-size="10.2" text-anchor="end" stroke="#111" stroke-width="0.45">10</text>
<text x="28.50" y="799.90" font-size="8.36" stroke="#111" stroke-width="0.45">4</text>
<path d="M36.00 759.36H40.20" stroke="#111" stroke-width="1.3"/>
<text x="28.90" y="763.32" font-size="10.2" text-anchor="end" stroke="#111" stroke-width="0.45">10</text>
<text x="28.50" y="760.42" font-size="8.36" stroke="#111" stroke-width="0.45">5</text>
<path d="M36.00 719.52H40.20" stroke="#111" stroke-width="1.3"/>
<text x="28.90" y="723.84" font-size="10.2" text-anchor="end" stroke="#111" stroke-width="0.45">10</text>
<text x="28.50" y="720.94" font-size="8.36" stroke="#111" stroke-width="0.45">6</text>
<path d="M36.00 679.68H40.20" stroke="#111" stroke-width="1.3"/>
<text x="28.90" y="684.36" font-size="10.2" text-anchor="end" stroke="#111" stroke-width="0.45">10</text>
<text x="28.50" y="681.46" font-size="8.36" stroke="#111" stroke-width="0.45">7</text>
<path d="M36.00 639.84H40.20" stroke="#111" stroke-width="1.3"/>
<text x="28.90" y="644.88" font-size="10.2" text-anchor="end" stroke="#111" stroke-width="0.45">10</text>
<text x="28.50" y="641.98" font-size="8.36" stroke="#111" stroke-width="0.45">8</text>
<path d="M36.00 600.00H40.20" stroke="#111" stroke-width="1.3"/>
<text x="28.90" y="605.40" font-size="10.2" text-anchor="end" stroke="#111" stroke-width="0.45">10</text>
<text x="28.50" y="602.50" font-size="8.36" stroke="#111" stroke-width="0.45">9</text>
<path d="M40.00 799.20V804.20" stroke="#111" stroke-width="1.3"/>
<text x="40.00" y="816.50" font-size="9.8" text-anchor="middle" stroke="#111" stroke-width="0.45">0</text>
<path d="M60.06 799.20V804.20" stroke="#111" stroke-width="1.3"/>
<text x="60.06" y="816.50" font-size="9.8" text-anchor="middle" stroke="#111" stroke-width="0.45">1</text>
<path d="M80.12 799.20V804.20" stroke="#111" stroke-width="1.3"/>
<text x="80.12" y="816.50" font-size="9.8" text-anchor="middle" stroke="#111" stroke-width="0.45">2</text>
<path d="M100.18 799.20V804.20" stroke="#111" stroke-width="1.3"/>
<text x="100.18" y="816.50" font-size="9.8" text-anchor="middle" stroke="#111" stroke-width="0.45">3</text>
<path d="M120.24 799.20V804.20" stroke="#111" stroke-width="1.3"/>
<text x="120.24" y="816.50" font-size="9.8" text-anchor="middle" stroke="#111" stroke-width="0.45">4</text>
<path d="M140.30 799.20V804.20" stroke="#111" stroke-width="1.3"/>
<text x="140.30" y="816.50" font-size="9.8" text-anchor="middle" stroke="#111" stroke-width="0.45">5</text>
<path d="M160.36 799.20V804.20" stroke="#111" stroke-width="1.3"/>
<text x="160.36" y="816.50" font-size="9.8" text-anchor="middle" stroke="#111" stroke-width="0.45">6</text>
<path d="M180.42 799.20V804.20" stroke="#111" stroke-width="1.3"/>
<text x="180.42" y="816.50" font-size="9.8" text-anchor="middle" stroke="#111" stroke-width="0.45">7</text>
<path d="M200.48 799.20V804.20" stroke="#111" stroke-width="1.3"/>
<text x="200.48" y="816.50" font-size="9.8" text-anchor="middle" stroke="#111" stroke-width="0.45">8</text>
<path d="M220.54 799.20V804.20" stroke="#111" stroke-width="1.3"/>
<text x="220.54" y="816.50" font-size="9.8" text-anchor="middle" stroke="#111" stroke-width="0.45">9</text>
<path d="M240.60 799.20V804.20" stroke="#111" stroke-width="1.3"/>
<text x="240.60" y="816.50" font-size="9.8" text-anchor="middle" stroke="#111" stroke-width="0.45">10</text>
<text x="118.80" y="610.80" font-size="12.5" text-anchor="middle" textLength="7.4" lengthAdjust="spacingAndGlyphs" stroke="#111" stroke-width="0.45">V</text>
<text x="90.00" y="634.40" font-size="12.5" textLength="57.3" lengthAdjust="spacingAndGlyphs" stroke="#111" stroke-width="0.45">LGM GR-C</text>
<text x="116.00" y="833.00" font-size="12" textLength="55.4" lengthAdjust="spacingAndGlyphs" stroke="#111" stroke-width="0.45">Time (days)</text>
<text transform="translate(10.55 699.90) rotate(-90)" x="0" y="0" font-size="12" text-anchor="middle" textLength="58.2" lengthAdjust="spacingAndGlyphs" stroke="#111" stroke-width="0.45">Cell number</text>
<polyline points="40.00,770.75 60.06,763.00 80.12,750.75 100.18,740.00 120.24,738.40 140.30,729.10 160.36,719.70 180.42,714.30 200.48,699.50 220.54,687.40 240.60,681.20" fill="none" stroke="#111" stroke-width="1.3" stroke-dasharray="3.2 1.1"/>
<polyline points="40.00,770.75 60.06,767.50 80.12,752.50 100.18,735.75 120.24,727.20 140.30,716.70 160.36,700.80 180.42,687.90 200.48,668.20 220.54,654.20 240.60,644.00" fill="none" stroke="#111" stroke-width="2.1"/>
<path d="M40.00 768.05Q41.62 769.13 42.70 770.75Q41.62 772.37 40.00 773.45Q38.38 772.37 37.30 770.75Q38.38 769.13 40.00 768.05Z" fill="#fff" stroke="#000" stroke-width="1.4" stroke-linejoin="round"/>
<path d="M60.06 760.30Q61.68 761.38 62.76 763.00Q61.68 764.62 60.06 765.70Q58.44 764.62 57.36 763.00Q58.44 761.38 60.06 760.30Z" fill="#fff" stroke="#000" stroke-width="1.4" stroke-linejoin="round"/>
<path d="M80.12 748.05Q81.74 749.13 82.82 750.75Q81.74 752.37 80.12 753.45Q78.50 752.37 77.42 750.75Q78.50 749.13 80.12 748.05Z" fill="#fff" stroke="#000" stroke-width="1.4" stroke-linejoin="round"/>
<path d="M100.18 737.30Q101.80 738.38 102.88 740.00Q101.80 741.62 100.18 742.70Q98.56 741.62 97.48 740.00Q98.56 738.38 100.18 737.30Z" fill="#fff" stroke="#000" stroke-width="1.4" stroke-linejoin="round"/>
<path d="M120.24 735.70Q121.86 736.78 122.94 738.40Q121.86 740.02 120.24 741.10Q118.62 740.02 117.54 738.40Q118.62 736.78 120.24 735.70Z" fill="#fff" stroke="#000" stroke-width="1.4" stroke-linejoin="round"/>
<path d="M140.30 726.40Q141.92 727.48 143.00 729.10Q141.92 730.72 140.30 731.80Q138.68 730.72 137.60 729.10Q138.68 727.48 140.30 726.40Z" fill="#fff" stroke="#000" stroke-width="1.4" stroke-linejoin="round"/>
<path d="M160.36 717.00Q161.98 718.08 163.06 719.70Q161.98 721.32 160.36 722.40Q158.74 721.32 157.66 719.70Q158.74 718.08 160.36 717.00Z" fill="#fff" stroke="#000" stroke-width="1.4" stroke-linejoin="round"/>
<path d="M180.42 711.60Q182.04 712.68 183.12 714.30Q182.04 715.92 180.42 717.00Q178.80 715.92 177.72 714.30Q178.80 712.68 180.42 711.60Z" fill="#fff" stroke="#000" stroke-width="1.4" stroke-linejoin="round"/>
<path d="M200.48 696.80Q202.10 697.88 203.18 699.50Q202.10 701.12 200.48 702.20Q198.86 701.12 197.78 699.50Q198.86 697.88 200.48 696.80Z" fill="#fff" stroke="#000" stroke-width="1.4" stroke-linejoin="round"/>
<path d="M220.54 684.70Q222.16 685.78 223.24 687.40Q222.16 689.02 220.54 690.10Q218.92 689.02 217.84 687.40Q218.92 685.78 220.54 684.70Z" fill="#fff" stroke="#000" stroke-width="1.4" stroke-linejoin="round"/>
<path d="M240.60 678.50Q242.22 679.58 243.30 681.20Q242.22 682.82 240.60 683.90Q238.98 682.82 237.90 681.20Q238.98 679.58 240.60 678.50Z" fill="#fff" stroke="#000" stroke-width="1.4" stroke-linejoin="round"/>
<rect x="37.10" y="767.85" width="5.8" height="5.8" fill="#fff" stroke="#111" stroke-width="1.45"/>
<rect x="57.16" y="764.60" width="5.8" height="5.8" fill="#fff" stroke="#111" stroke-width="1.45"/>
<rect x="77.22" y="749.60" width="5.8" height="5.8" fill="#fff" stroke="#111" stroke-width="1.45"/>
<rect x="97.28" y="732.85" width="5.8" height="5.8" fill="#fff" stroke="#111" stroke-width="1.45"/>
<rect x="117.34" y="724.30" width="5.8" height="5.8" fill="#fff" stroke="#111" stroke-width="1.45"/>
<rect x="137.40" y="713.80" width="5.8" height="5.8" fill="#fff" stroke="#111" stroke-width="1.45"/>
<rect x="157.46" y="697.90" width="5.8" height="5.8" fill="#fff" stroke="#111" stroke-width="1.45"/>
<rect x="177.52" y="685.00" width="5.8" height="5.8" fill="#fff" stroke="#111" stroke-width="1.45"/>
<rect x="197.58" y="665.30" width="5.8" height="5.8" fill="#fff" stroke="#111" stroke-width="1.45"/>
<rect x="217.64" y="651.30" width="5.8" height="5.8" fill="#fff" stroke="#111" stroke-width="1.45"/>
<rect x="237.70" y="641.10" width="5.8" height="5.8" fill="#fff" stroke="#111" stroke-width="1.45"/>
<path d="M135.60 750.00H174.60" stroke="#111" stroke-width="1.6"/>
<rect x="152.30" y="747.10" width="5.8" height="5.8" fill="#fff" stroke="#111" stroke-width="1.45"/>
<path d="M135.60 773.10H174.60" stroke="#111" stroke-width="1.05" stroke-dasharray="2.6 0.7 1.5 0.7"/>
<path d="M155.20 770.40Q157.00 771.60 158.20 773.40Q157.00 775.20 155.20 776.40Q153.40 775.20 152.20 773.40Q153.40 771.60 155.20 770.40Z" fill="#fff" stroke="#000" stroke-width="1.2" stroke-linejoin="round"/>
<text x="187.00" y="754.90" font-size="9.6" textLength="34.2" lengthAdjust="spacingAndGlyphs" stroke="#111" stroke-width="0.45">untreated</text>
<text x="187.00" y="779.20" font-size="10.2" textLength="28.8" lengthAdjust="spacingAndGlyphs" stroke="#111" stroke-width="0.45">G-CSF</text>
<path d="M289.00 597.50V796.00H488.55" fill="none" stroke="#111" stroke-width="1.8"/>
<path d="M284.80 796.00H289.00" stroke="#111" stroke-width="1.3"/>
<text x="279.70" y="798.80" font-size="10.8" text-anchor="end" stroke="#111" stroke-width="0.45">10</text>
<text x="279.30" y="795.90" font-size="8.86" stroke="#111" stroke-width="0.45">4</text>
<path d="M284.80 756.30H289.00" stroke="#111" stroke-width="1.3"/>
<text x="279.70" y="759.56" font-size="10.8" text-anchor="end" stroke="#111" stroke-width="0.45">10</text>
<text x="279.30" y="756.66" font-size="8.86" stroke="#111" stroke-width="0.45">5</text>
<path d="M284.80 716.60H289.00" stroke="#111" stroke-width="1.3"/>
<text x="279.70" y="720.32" font-size="10.8" text-anchor="end" stroke="#111" stroke-width="0.45">10</text>
<text x="279.30" y="717.42" font-size="8.86" stroke="#111" stroke-width="0.45">6</text>
<path d="M284.80 676.90H289.00" stroke="#111" stroke-width="1.3"/>
<text x="279.70" y="681.08" font-size="10.8" text-anchor="end" stroke="#111" stroke-width="0.45">10</text>
<text x="279.30" y="678.18" font-size="8.86" stroke="#111" stroke-width="0.45">7</text>
<path d="M284.80 637.20H289.00" stroke="#111" stroke-width="1.3"/>
<text x="279.70" y="641.84" font-size="10.8" text-anchor="end" stroke="#111" stroke-width="0.45">10</text>
<text x="279.30" y="638.94" font-size="8.86" stroke="#111" stroke-width="0.45">8</text>
<path d="M284.80 597.50H289.00" stroke="#111" stroke-width="1.3"/>
<text x="279.70" y="602.60" font-size="10.8" text-anchor="end" stroke="#111" stroke-width="0.45">10</text>
<text x="279.30" y="599.70" font-size="8.86" stroke="#111" stroke-width="0.45">9</text>
<path d="M288.75 796.00V801.00" stroke="#111" stroke-width="1.3"/>
<text x="288.75" y="814.30" font-size="9.8" text-anchor="middle" stroke="#111" stroke-width="0.45">0</text>
<path d="M308.73 796.00V801.00" stroke="#111" stroke-width="1.3"/>
<text x="308.73" y="814.30" font-size="9.8" text-anchor="middle" stroke="#111" stroke-width="0.45">1</text>
<path d="M328.71 796.00V801.00" stroke="#111" stroke-width="1.3"/>
<text x="328.71" y="814.30" font-size="9.8" text-anchor="middle" stroke="#111" stroke-width="0.45">2</text>
<path d="M348.69 796.00V801.00" stroke="#111" stroke-width="1.3"/>
<text x="348.69" y="814.30" font-size="9.8" text-anchor="middle" stroke="#111" stroke-width="0.45">3</text>
<path d="M368.67 796.00V801.00" stroke="#111" stroke-width="1.3"/>
<text x="368.67" y="814.30" font-size="9.8" text-anchor="middle" stroke="#111" stroke-width="0.45">4</text>
<path d="M388.65 796.00V801.00" stroke="#111" stroke-width="1.3"/>
<text x="388.65" y="814.30" font-size="9.8" text-anchor="middle" stroke="#111" stroke-width="0.45">5</text>
<path d="M408.63 796.00V801.00" stroke="#111" stroke-width="1.3"/>
<text x="408.63" y="814.30" font-size="9.8" text-anchor="middle" stroke="#111" stroke-width="0.45">6</text>
<path d="M428.61 796.00V801.00" stroke="#111" stroke-width="1.3"/>
<text x="428.61" y="814.30" font-size="9.8" text-anchor="middle" stroke="#111" stroke-width="0.45">7</text>
<path d="M448.59 796.00V801.00" stroke="#111" stroke-width="1.3"/>
<text x="448.59" y="814.30" font-size="9.8" text-anchor="middle" stroke="#111" stroke-width="0.45">8</text>
<path d="M468.57 796.00V801.00" stroke="#111" stroke-width="1.3"/>
<text x="468.57" y="814.30" font-size="9.8" text-anchor="middle" stroke="#111" stroke-width="0.45">9</text>
<path d="M488.55 796.00V801.00" stroke="#111" stroke-width="1.3"/>
<text x="488.55" y="814.30" font-size="9.8" text-anchor="middle" stroke="#111" stroke-width="0.45">10</text>
<text x="374.00" y="610.40" font-size="12.5" text-anchor="middle" textLength="10.4" lengthAdjust="spacingAndGlyphs" stroke="#111" stroke-width="0.45">VI</text>
<text x="345.00" y="633.50" font-size="12.5" textLength="57.1" lengthAdjust="spacingAndGlyphs" stroke="#111" stroke-width="0.45">LGM GR-D</text>
<text x="363.10" y="832.70" font-size="12" textLength="56.3" lengthAdjust="spacingAndGlyphs" stroke="#111" stroke-width="0.45">Time (days)</text>
<text transform="translate(266.10 695.00) rotate(-90)" x="0" y="0" font-size="12" text-anchor="middle" textLength="57.6" lengthAdjust="spacingAndGlyphs" stroke="#111" stroke-width="0.45">Cell number</text>
<polyline points="288.75,768.00 308.73,763.25 328.71,733.75 348.69,730.00 368.67,724.50 388.65,716.20 408.63,702.70 428.61,697.30 448.59,677.10 468.57,664.50 488.55,657.50" fill="none" stroke="#111" stroke-width="1.0" stroke-dasharray="2.6 0.7 1.5 0.7"/>
<polyline points="288.75,768.00 308.73,763.25 328.71,735.50 348.69,732.50 368.67,722.50 388.65,712.90 408.63,694.60 428.61,686.50 448.59,667.20 468.57,651.00 488.55,640.80" fill="none" stroke="#111" stroke-width="2.1"/>
<path d="M288.75 765.50Q290.88 765.88 291.25 768.00Q290.88 770.12 288.75 770.50Q286.62 770.12 286.25 768.00Q286.62 765.88 288.75 765.50Z" fill="#fff" stroke="#000" stroke-width="1.4" stroke-linejoin="round"/>
<path d="M308.73 760.75Q310.86 761.12 311.23 763.25Q310.86 765.38 308.73 765.75Q306.61 765.38 306.23 763.25Q306.61 761.12 308.73 760.75Z" fill="#fff" stroke="#000" stroke-width="1.4" stroke-linejoin="round"/>
<path d="M328.71 731.25Q330.83 731.62 331.21 733.75Q330.83 735.88 328.71 736.25Q326.58 735.88 326.21 733.75Q326.58 731.62 328.71 731.25Z" fill="#fff" stroke="#000" stroke-width="1.4" stroke-linejoin="round"/>
<path d="M348.69 727.50Q350.81 727.88 351.19 730.00Q350.81 732.12 348.69 732.50Q346.56 732.12 346.19 730.00Q346.56 727.88 348.69 727.50Z" fill="#fff" stroke="#000" stroke-width="1.4" stroke-linejoin="round"/>
<path d="M368.67 722.00Q370.80 722.38 371.17 724.50Q370.80 726.62 368.67 727.00Q366.55 726.62 366.17 724.50Q366.55 722.38 368.67 722.00Z" fill="#fff" stroke="#000" stroke-width="1.4" stroke-linejoin="round"/>
<path d="M388.65 713.70Q390.77 714.08 391.15 716.20Q390.77 718.33 388.65 718.70Q386.52 718.33 386.15 716.20Q386.52 714.08 388.65 713.70Z" fill="#fff" stroke="#000" stroke-width="1.4" stroke-linejoin="round"/>
<path d="M408.63 700.20Q410.75 700.58 411.13 702.70Q410.75 704.83 408.63 705.20Q406.50 704.83 406.13 702.70Q406.50 700.58 408.63 700.20Z" fill="#fff" stroke="#000" stroke-width="1.4" stroke-linejoin="round"/>
<path d="M428.61 694.80Q430.74 695.17 431.11 697.30Q430.74 699.42 428.61 699.80Q426.49 699.42 426.11 697.30Q426.49 695.17 428.61 694.80Z" fill="#fff" stroke="#000" stroke-width="1.4" stroke-linejoin="round"/>
<path d="M448.59 674.60Q450.72 674.98 451.09 677.10Q450.72 679.23 448.59 679.60Q446.47 679.23 446.09 677.10Q446.47 674.98 448.59 674.60Z" fill="#fff" stroke="#000" stroke-width="1.4" stroke-linejoin="round"/>
<path d="M468.57 662.00Q470.69 662.38 471.07 664.50Q470.69 666.62 468.57 667.00Q466.44 666.62 466.07 664.50Q466.44 662.38 468.57 662.00Z" fill="#fff" stroke="#000" stroke-width="1.4" stroke-linejoin="round"/>
<path d="M488.55 655.00Q490.68 655.38 491.05 657.50Q490.68 659.62 488.55 660.00Q486.43 659.62 486.05 657.50Q486.43 655.38 488.55 655.00Z" fill="#fff" stroke="#000" stroke-width="1.4" stroke-linejoin="round"/>
<rect x="285.85" y="765.10" width="5.8" height="5.8" fill="#fff" stroke="#111" stroke-width="1.45"/>
<rect x="305.83" y="760.35" width="5.8" height="5.8" fill="#fff" stroke="#111" stroke-width="1.45"/>
<rect x="325.81" y="732.60" width="5.8" height="5.8" fill="#fff" stroke="#111" stroke-width="1.45"/>
<rect x="345.79" y="729.60" width="5.8" height="5.8" fill="#fff" stroke="#111" stroke-width="1.45"/>
<rect x="365.77" y="719.60" width="5.8" height="5.8" fill="#fff" stroke="#111" stroke-width="1.45"/>
<rect x="385.75" y="710.00" width="5.8" height="5.8" fill="#fff" stroke="#111" stroke-width="1.45"/>
<rect x="405.73" y="691.70" width="5.8" height="5.8" fill="#fff" stroke="#111" stroke-width="1.45"/>
<rect x="425.71" y="683.60" width="5.8" height="5.8" fill="#fff" stroke="#111" stroke-width="1.45"/>
<rect x="445.69" y="664.30" width="5.8" height="5.8" fill="#fff" stroke="#111" stroke-width="1.45"/>
<rect x="465.67" y="648.10" width="5.8" height="5.8" fill="#fff" stroke="#111" stroke-width="1.45"/>
<rect x="485.65" y="637.90" width="5.8" height="5.8" fill="#fff" stroke="#111" stroke-width="1.45"/>
<path d="M379.40 737.20H419.80" stroke="#111" stroke-width="1.6"/>
<rect x="396.70" y="734.30" width="5.8" height="5.8" fill="#fff" stroke="#111" stroke-width="1.45"/>
<path d="M379.40 761.40H419.80" stroke="#111" stroke-width="1.05" stroke-dasharray="2.6 0.7 1.5 0.7"/>
<path d="M399.60 758.70Q401.40 759.90 402.60 761.70Q401.40 763.50 399.60 764.70Q397.80 763.50 396.60 761.70Q397.80 759.90 399.60 758.70Z" fill="#fff" stroke="#000" stroke-width="1.2" stroke-linejoin="round"/>
<text x="431.90" y="742.80" font-size="9.6" textLength="34.2" lengthAdjust="spacingAndGlyphs" stroke="#111" stroke-width="0.45">untreated</text>
<text x="431.90" y="767.10" font-size="10.2" textLength="29.6" lengthAdjust="spacingAndGlyphs" stroke="#111" stroke-width="0.45">G-CSF</text>
<path d="M44.60 911.25V1111.40H244.20" fill="none" stroke="#111" stroke-width="1.8"/>
<path d="M40.40 1111.40H44.60" stroke="#111" stroke-width="1.3"/>
<text x="34.80" y="1112.60" font-size="11.3" text-anchor="end" stroke="#111" stroke-width="0.45">10</text>
<text x="34.40" y="1109.70" font-size="9.27" stroke="#111" stroke-width="0.45">4</text>
<path d="M40.40 1071.37H44.60" stroke="#111" stroke-width="1.3"/>
<text x="34.80" y="1073.41" font-size="11.3" text-anchor="end" stroke="#111" stroke-width="0.45">10</text>
<text x="34.40" y="1070.51" font-size="9.27" stroke="#111" stroke-width="0.45">5</text>
<path d="M40.40 1031.34H44.60" stroke="#111" stroke-width="1.3"/>
<text x="34.80" y="1034.22" font-size="11.3" text-anchor="end" stroke="#111" stroke-width="0.45">10</text>
<text x="34.40" y="1031.32" font-size="9.27" stroke="#111" stroke-width="0.45">6</text>
<path d="M40.40 991.31H44.60" stroke="#111" stroke-width="1.3"/>
<text x="34.80" y="995.03" font-size="11.3" text-anchor="end" stroke="#111" stroke-width="0.45">10</text>
<text x="34.40" y="992.13" font-size="9.27" stroke="#111" stroke-width="0.45">7</text>
<path d="M40.40 951.28H44.60" stroke="#111" stroke-width="1.3"/>
<text x="34.80" y="955.84" font-size="11.3" text-anchor="end" stroke="#111" stroke-width="0.45">10</text>
<text x="34.40" y="952.94" font-size="9.27" stroke="#111" stroke-width="0.45">8</text>
<path d="M40.40 911.25H44.60" stroke="#111" stroke-width="1.3"/>
<text x="34.80" y="916.65" font-size="11.3" text-anchor="end" stroke="#111" stroke-width="0.45">10</text>
<text x="34.40" y="913.75" font-size="9.27" stroke="#111" stroke-width="0.45">9</text>
<path d="M44.50 1111.40V1116.40" stroke="#111" stroke-width="1.3"/>
<text x="44.50" y="1129.50" font-size="9.8" text-anchor="middle" stroke="#111" stroke-width="0.45">0</text>
<path d="M64.47 1111.40V1116.40" stroke="#111" stroke-width="1.3"/>
<text x="64.47" y="1129.50" font-size="9.8" text-anchor="middle" stroke="#111" stroke-width="0.45">1</text>
<path d="M84.44 1111.40V1116.40" stroke="#111" stroke-width="1.3"/>
<text x="84.44" y="1129.50" font-size="9.8" text-anchor="middle" stroke="#111" stroke-width="0.45">2</text>
<path d="M104.41 1111.40V1116.40" stroke="#111" stroke-width="1.3"/>
<text x="104.41" y="1129.50" font-size="9.8" text-anchor="middle" stroke="#111" stroke-width="0.45">3</text>
<path d="M124.38 1111.40V1116.40" stroke="#111" stroke-width="1.3"/>
<text x="124.38" y="1129.50" font-size="9.8" text-anchor="middle" stroke="#111" stroke-width="0.45">4</text>
<path d="M144.35 1111.40V1116.40" stroke="#111" stroke-width="1.3"/>
<text x="144.35" y="1129.50" font-size="9.8" text-anchor="middle" stroke="#111" stroke-width="0.45">5</text>
<path d="M164.32 1111.40V1116.40" stroke="#111" stroke-width="1.3"/>
<text x="164.32" y="1129.50" font-size="9.8" text-anchor="middle" stroke="#111" stroke-width="0.45">6</text>
<path d="M184.29 1111.40V1116.40" stroke="#111" stroke-width="1.3"/>
<text x="184.29" y="1129.50" font-size="9.8" text-anchor="middle" stroke="#111" stroke-width="0.45">7</text>
<path d="M204.26 1111.40V1116.40" stroke="#111" stroke-width="1.3"/>
<text x="204.26" y="1129.50" font-size="9.8" text-anchor="middle" stroke="#111" stroke-width="0.45">8</text>
<path d="M224.23 1111.40V1116.40" stroke="#111" stroke-width="1.3"/>
<text x="224.23" y="1129.50" font-size="9.8" text-anchor="middle" stroke="#111" stroke-width="0.45">9</text>
<path d="M244.20 1111.40V1116.40" stroke="#111" stroke-width="1.3"/>
<text x="244.20" y="1129.50" font-size="9.8" text-anchor="middle" stroke="#111" stroke-width="0.45">10</text>
<text x="124.00" y="934.40" font-size="12.5" text-anchor="middle" textLength="15.4" lengthAdjust="spacingAndGlyphs" stroke="#111" stroke-width="0.45">VII</text>
<text x="95.80" y="957.70" font-size="12.5" textLength="56.3" lengthAdjust="spacingAndGlyphs" stroke="#111" stroke-width="0.45">LGM GR-E</text>
<text x="115.40" y="1146.50" font-size="12" textLength="55.8" lengthAdjust="spacingAndGlyphs" stroke="#111" stroke-width="0.45">Time (days)</text>
<text transform="translate(14.60 1012.00) rotate(-90)" x="0" y="0" font-size="12" text-anchor="middle" textLength="57.7" lengthAdjust="spacingAndGlyphs" stroke="#111" stroke-width="0.45">Cell number</text>
<polyline points="44.50,1083.25 64.47,1077.50 84.44,1061.75 104.41,1044.25 124.38,1035.00 144.35,1022.00 164.32,1002.10 184.29,990.50 204.26,972.00 224.23,957.20 244.20,941.50" fill="none" stroke="#111" stroke-width="1.0" stroke-dasharray="2.6 0.7 1.5 0.7"/>
<polyline points="44.50,1083.25 64.47,1077.50 84.44,1061.75 104.41,1044.25 124.38,1038.20 144.35,1023.70 164.32,1005.60 184.29,993.50 204.26,973.30 224.23,957.20 244.20,944.20" fill="none" stroke="#111" stroke-width="2.1"/>
<path d="M44.50 1080.55Q46.12 1081.63 47.20 1083.25Q46.12 1084.87 44.50 1085.95Q42.88 1084.87 41.80 1083.25Q42.88 1081.63 44.50 1080.55Z" fill="#fff" stroke="#000" stroke-width="1.4" stroke-linejoin="round"/>
<path d="M64.47 1074.80Q66.09 1075.88 67.17 1077.50Q66.09 1079.12 64.47 1080.20Q62.85 1079.12 61.77 1077.50Q62.85 1075.88 64.47 1074.80Z" fill="#fff" stroke="#000" stroke-width="1.4" stroke-linejoin="round"/>
<path d="M84.44 1059.05Q86.06 1060.13 87.14 1061.75Q86.06 1063.37 84.44 1064.45Q82.82 1063.37 81.74 1061.75Q82.82 1060.13 84.44 1059.05Z" fill="#fff" stroke="#000" stroke-width="1.4" stroke-linejoin="round"/>
<path d="M104.41 1041.55Q106.03 1042.63 107.11 1044.25Q106.03 1045.87 104.41 1046.95Q102.79 1045.87 101.71 1044.25Q102.79 1042.63 104.41 1041.55Z" fill="#fff" stroke="#000" stroke-width="1.4" stroke-linejoin="round"/>
<path d="M124.38 1032.30Q126.00 1033.38 127.08 1035.00Q126.00 1036.62 124.38 1037.70Q122.76 1036.62 121.68 1035.00Q122.76 1033.38 124.38 1032.30Z" fill="#fff" stroke="#000" stroke-width="1.4" stroke-linejoin="round"/>
<path d="M144.35 1019.30Q145.97 1020.38 147.05 1022.00Q145.97 1023.62 144.35 1024.70Q142.73 1023.62 141.65 1022.00Q142.73 1020.38 144.35 1019.30Z" fill="#fff" stroke="#000" stroke-width="1.4" stroke-linejoin="round"/>
<path d="M164.32 999.40Q165.94 1000.48 167.02 1002.10Q165.94 1003.72 164.32 1004.80Q162.70 1003.72 161.62 1002.10Q162.70 1000.48 164.32 999.40Z" fill="#fff" stroke="#000" stroke-width="1.4" stroke-linejoin="round"/>
<path d="M184.29 987.80Q185.91 988.88 186.99 990.50Q185.91 992.12 184.29 993.20Q182.67 992.12 181.59 990.50Q182.67 988.88 184.29 987.80Z" fill="#fff" stroke="#000" stroke-width="1.4" stroke-linejoin="round"/>
<path d="M204.26 969.30Q205.88 970.38 206.96 972.00Q205.88 973.62 204.26 974.70Q202.64 973.62 201.56 972.00Q202.64 970.38 204.26 969.30Z" fill="#fff" stroke="#000" stroke-width="1.4" stroke-linejoin="round"/>
<path d="M224.23 954.50Q225.85 955.58 226.93 957.20Q225.85 958.82 224.23 959.90Q222.61 958.82 221.53 957.20Q222.61 955.58 224.23 954.50Z" fill="#fff" stroke="#000" stroke-width="1.4" stroke-linejoin="round"/>
<path d="M244.20 938.80Q245.82 939.88 246.90 941.50Q245.82 943.12 244.20 944.20Q242.58 943.12 241.50 941.50Q242.58 939.88 244.20 938.80Z" fill="#fff" stroke="#000" stroke-width="1.4" stroke-linejoin="round"/>
<rect x="41.60" y="1080.35" width="5.8" height="5.8" fill="#fff" stroke="#111" stroke-width="1.45"/>
<rect x="61.57" y="1074.60" width="5.8" height="5.8" fill="#fff" stroke="#111" stroke-width="1.45"/>
<rect x="81.54" y="1058.85" width="5.8" height="5.8" fill="#fff" stroke="#111" stroke-width="1.45"/>
<rect x="101.51" y="1041.35" width="5.8" height="5.8" fill="#fff" stroke="#111" stroke-width="1.45"/>
<rect x="121.48" y="1035.30" width="5.8" height="5.8" fill="#fff" stroke="#111" stroke-width="1.45"/>
<rect x="141.45" y="1020.80" width="5.8" height="5.8" fill="#fff" stroke="#111" stroke-width="1.45"/>
<rect x="161.42" y="1002.70" width="5.8" height="5.8" fill="#fff" stroke="#111" stroke-width="1.45"/>
<rect x="181.39" y="990.60" width="5.8" height="5.8" fill="#fff" stroke="#111" stroke-width="1.45"/>
<rect x="201.36" y="970.40" width="5.8" height="5.8" fill="#fff" stroke="#111" stroke-width="1.45"/>
<rect x="221.33" y="954.30" width="5.8" height="5.8" fill="#fff" stroke="#111" stroke-width="1.45"/>
<rect x="241.30" y="941.30" width="5.8" height="5.8" fill="#fff" stroke="#111" stroke-width="1.45"/>
<path d="M124.40 1065.60H164.30" stroke="#111" stroke-width="1.6"/>
<rect x="141.70" y="1062.70" width="5.8" height="5.8" fill="#fff" stroke="#111" stroke-width="1.45"/>
<path d="M124.40 1089.80H164.30" stroke="#111" stroke-width="1.05" stroke-dasharray="2.6 0.7 1.5 0.7"/>
<path d="M144.60 1087.10Q146.40 1088.30 147.60 1090.10Q146.40 1091.90 144.60 1093.10Q142.80 1091.90 141.60 1090.10Q142.80 1088.30 144.60 1087.10Z" fill="#fff" stroke="#000" stroke-width="1.2" stroke-linejoin="round"/>
<text x="176.90" y="1070.10" font-size="9.6" textLength="33.7" lengthAdjust="spacingAndGlyphs" stroke="#111" stroke-width="0.45">untreated</text>
<text x="176.90" y="1094.60" font-size="10.2" textLength="27" lengthAdjust="spacingAndGlyphs" stroke="#111" stroke-width="0.45">G-CSF</text>
<path d="M280.50 913.75V1109.00H496.50" fill="none" stroke="#111" stroke-width="1.8"/>
<path d="M276.30 1109.00H280.50" stroke="#111" stroke-width="1.3"/>
<text x="273.00" y="1109.00" font-size="11.2" text-anchor="end" stroke="#111" stroke-width="0.45">10</text>
<text x="272.60" y="1106.10" font-size="9.18" stroke="#111" stroke-width="0.45">4</text>
<path d="M276.30 1069.95H280.50" stroke="#111" stroke-width="1.3"/>
<text x="273.00" y="1071.19" font-size="11.2" text-anchor="end" stroke="#111" stroke-width="0.45">10</text>
<text x="272.60" y="1068.29" font-size="9.18" stroke="#111" stroke-width="0.45">5</text>
<path d="M276.30 1030.90H280.50" stroke="#111" stroke-width="1.3"/>
<text x="273.00" y="1033.38" font-size="11.2" text-anchor="end" stroke="#111" stroke-width="0.45">10</text>
<text x="272.60" y="1030.48" font-size="9.18" stroke="#111" stroke-width="0.45">6</text>
<path d="M276.30 991.85H280.50" stroke="#111" stroke-width="1.3"/>
<text x="273.00" y="995.57" font-size="11.2" text-anchor="end" stroke="#111" stroke-width="0.45">10</text>
<text x="272.60" y="992.67" font-size="9.18" stroke="#111" stroke-width="0.45">7</text>
<path d="M276.30 952.80H280.50" stroke="#111" stroke-width="1.3"/>
<text x="273.00" y="957.76" font-size="11.2" text-anchor="end" stroke="#111" stroke-width="0.45">10</text>
<text x="272.60" y="954.86" font-size="9.18" stroke="#111" stroke-width="0.45">8</text>
<path d="M276.30 913.75H280.50" stroke="#111" stroke-width="1.3"/>
<text x="273.00" y="919.95" font-size="11.2" text-anchor="end" stroke="#111" stroke-width="0.45">10</text>
<text x="272.60" y="917.05" font-size="9.18" stroke="#111" stroke-width="0.45">9</text>
<path d="M280.50 1109.00V1114.00" stroke="#111" stroke-width="1.3"/>
<text x="280.50" y="1127.10" font-size="9.8" text-anchor="middle" stroke="#111" stroke-width="0.45">0</text>
<path d="M302.10 1109.00V1114.00" stroke="#111" stroke-width="1.3"/>
<text x="302.10" y="1127.10" font-size="9.8" text-anchor="middle" stroke="#111" stroke-width="0.45">1</text>
<path d="M323.70 1109.00V1114.00" stroke="#111" stroke-width="1.3"/>
<text x="323.70" y="1127.10" font-size="9.8" text-anchor="middle" stroke="#111" stroke-width="0.45">2</text>
<path d="M345.30 1109.00V1114.00" stroke="#111" stroke-width="1.3"/>
<text x="345.30" y="1127.10" font-size="9.8" text-anchor="middle" stroke="#111" stroke-width="0.45">3</text>
<path d="M366.90 1109.00V1114.00" stroke="#111" stroke-width="1.3"/>
<text x="366.90" y="1127.10" font-size="9.8" text-anchor="middle" stroke="#111" stroke-width="0.45">4</text>
<path d="M388.50 1109.00V1114.00" stroke="#111" stroke-width="1.3"/>
<text x="388.50" y="1127.10" font-size="9.8" text-anchor="middle" stroke="#111" stroke-width="0.45">5</text>
<path d="M410.10 1109.00V1114.00" stroke="#111" stroke-width="1.3"/>
<text x="410.10" y="1127.10" font-size="9.8" text-anchor="middle" stroke="#111" stroke-width="0.45">6</text>
<path d="M431.70 1109.00V1114.00" stroke="#111" stroke-width="1.3"/>
<text x="431.70" y="1127.10" font-size="9.8" text-anchor="middle" stroke="#111" stroke-width="0.45">7</text>
<path d="M453.30 1109.00V1114.00" stroke="#111" stroke-width="1.3"/>
<text x="453.30" y="1127.10" font-size="9.8" text-anchor="middle" stroke="#111" stroke-width="0.45">8</text>
<path d="M474.90 1109.00V1114.00" stroke="#111" stroke-width="1.3"/>
<text x="474.90" y="1127.10" font-size="9.8" text-anchor="middle" stroke="#111" stroke-width="0.45">9</text>
<path d="M496.50 1109.00V1114.00" stroke="#111" stroke-width="1.3"/>
<text x="496.50" y="1127.10" font-size="9.8" text-anchor="middle" stroke="#111" stroke-width="0.45">10</text>
<text x="353.80" y="934.40" font-size="12.5" text-anchor="middle" textLength="18.7" lengthAdjust="spacingAndGlyphs" stroke="#111" stroke-width="0.45">VIII</text>
<text x="325.00" y="958.00" font-size="12.5" textLength="56.5" lengthAdjust="spacingAndGlyphs" stroke="#111" stroke-width="0.45">LGM GR-F</text>
<text x="363.50" y="1144.40" font-size="12" textLength="55.9" lengthAdjust="spacingAndGlyphs" stroke="#111" stroke-width="0.45">Time (days)</text>
<text transform="translate(258.70 1009.60) rotate(-90)" x="0" y="0" font-size="12" text-anchor="middle" textLength="57.7" lengthAdjust="spacingAndGlyphs" stroke="#111" stroke-width="0.45">Cell number</text>
<polyline points="280.50,1081.25 302.10,1067.00 323.70,1051.25 345.30,1038.75 366.90,1022.00 388.50,1005.50 410.10,984.00 431.70,975.90 453.30,956.00 474.90,936.90 496.50,921.00" fill="none" stroke="#111" stroke-width="1.0" stroke-dasharray="2.6 0.7 1.5 0.7"/>
<polyline points="280.50,1081.25 302.10,1072.50 323.70,1051.25 345.30,1036.25 366.90,1022.00 388.50,1005.50 410.10,984.00 431.70,975.90 453.30,953.00 474.90,934.20 496.50,921.00" fill="none" stroke="#111" stroke-width="2.1"/>
<path d="M280.50 1078.55Q282.39 1079.36 283.20 1081.25Q282.39 1083.14 280.50 1083.95Q278.61 1083.14 277.80 1081.25Q278.61 1079.36 280.50 1078.55Z" fill="#fff" stroke="#000" stroke-width="1.4" stroke-linejoin="round"/>
<path d="M302.10 1064.30Q303.99 1065.11 304.80 1067.00Q303.99 1068.89 302.10 1069.70Q300.21 1068.89 299.40 1067.00Q300.21 1065.11 302.10 1064.30Z" fill="#fff" stroke="#000" stroke-width="1.4" stroke-linejoin="round"/>
<path d="M323.70 1048.55Q325.59 1049.36 326.40 1051.25Q325.59 1053.14 323.70 1053.95Q321.81 1053.14 321.00 1051.25Q321.81 1049.36 323.70 1048.55Z" fill="#fff" stroke="#000" stroke-width="1.4" stroke-linejoin="round"/>
<path d="M345.30 1036.05Q347.19 1036.86 348.00 1038.75Q347.19 1040.64 345.30 1041.45Q343.41 1040.64 342.60 1038.75Q343.41 1036.86 345.30 1036.05Z" fill="#fff" stroke="#000" stroke-width="1.4" stroke-linejoin="round"/>
<path d="M366.90 1019.30Q368.79 1020.11 369.60 1022.00Q368.79 1023.89 366.90 1024.70Q365.01 1023.89 364.20 1022.00Q365.01 1020.11 366.90 1019.30Z" fill="#fff" stroke="#000" stroke-width="1.4" stroke-linejoin="round"/>
<path d="M388.50 1002.80Q390.39 1003.61 391.20 1005.50Q390.39 1007.39 388.50 1008.20Q386.61 1007.39 385.80 1005.50Q386.61 1003.61 388.50 1002.80Z" fill="#fff" stroke="#000" stroke-width="1.4" stroke-linejoin="round"/>
<path d="M410.10 981.30Q411.99 982.11 412.80 984.00Q411.99 985.89 410.10 986.70Q408.21 985.89 407.40 984.00Q408.21 982.11 410.10 981.30Z" fill="#fff" stroke="#000" stroke-width="1.4" stroke-linejoin="round"/>
<path d="M431.70 973.20Q433.59 974.01 434.40 975.90Q433.59 977.79 431.70 978.60Q429.81 977.79 429.00 975.90Q429.81 974.01 431.70 973.20Z" fill="#fff" stroke="#000" stroke-width="1.4" stroke-linejoin="round"/>
<path d="M453.30 953.30Q455.19 954.11 456.00 956.00Q455.19 957.89 453.30 958.70Q451.41 957.89 450.60 956.00Q451.41 954.11 453.30 953.30Z" fill="#fff" stroke="#000" stroke-width="1.4" stroke-linejoin="round"/>
<path d="M474.90 934.20Q476.79 935.01 477.60 936.90Q476.79 938.79 474.90 939.60Q473.01 938.79 472.20 936.90Q473.01 935.01 474.90 934.20Z" fill="#fff" stroke="#000" stroke-width="1.4" stroke-linejoin="round"/>
<path d="M496.50 918.30Q498.39 919.11 499.20 921.00Q498.39 922.89 496.50 923.70Q494.61 922.89 493.80 921.00Q494.61 919.11 496.50 918.30Z" fill="#fff" stroke="#000" stroke-width="1.4" stroke-linejoin="round"/>
<rect x="277.60" y="1078.35" width="5.8" height="5.8" fill="#fff" stroke="#111" stroke-width="1.45"/>
<rect x="299.20" y="1069.60" width="5.8" height="5.8" fill="#fff" stroke="#111" stroke-width="1.45"/>
<rect x="320.80" y="1048.35" width="5.8" height="5.8" fill="#fff" stroke="#111" stroke-width="1.45"/>
<rect x="342.40" y="1033.35" width="5.8" height="5.8" fill="#fff" stroke="#111" stroke-width="1.45"/>
<rect x="364.00" y="1019.10" width="5.8" height="5.8" fill="#fff" stroke="#111" stroke-width="1.45"/>
<rect x="385.60" y="1002.60" width="5.8" height="5.8" fill="#fff" stroke="#111" stroke-width="1.45"/>
<rect x="407.20" y="981.10" width="5.8" height="5.8" fill="#fff" stroke="#111" stroke-width="1.45"/>
<rect x="428.80" y="973.00" width="5.8" height="5.8" fill="#fff" stroke="#111" stroke-width="1.45"/>
<rect x="450.40" y="950.10" width="5.8" height="5.8" fill="#fff" stroke="#111" stroke-width="1.45"/>
<rect x="472.00" y="931.30" width="5.8" height="5.8" fill="#fff" stroke="#111" stroke-width="1.45"/>
<rect x="493.60" y="918.10" width="5.8" height="5.8" fill="#fff" stroke="#111" stroke-width="1.45"/>
<path d="M390.20 1041.00H429.80" stroke="#111" stroke-width="1.6"/>
<rect x="407.50" y="1038.10" width="5.8" height="5.8" fill="#fff" stroke="#111" stroke-width="1.45"/>
<path d="M390.20 1065.20H429.80" stroke="#111" stroke-width="1.05" stroke-dasharray="2.6 0.7 1.5 0.7"/>
<path d="M410.40 1062.50Q412.20 1063.70 413.40 1065.50Q412.20 1067.30 410.40 1068.50Q408.60 1067.30 407.40 1065.50Q408.60 1063.70 410.40 1062.50Z" fill="#fff" stroke="#000" stroke-width="1.2" stroke-linejoin="round"/>
<text x="441.40" y="1046.10" font-size="9.6" textLength="34.4" lengthAdjust="spacingAndGlyphs" stroke="#111" stroke-width="0.45">untreated</text>
<text x="441.40" y="1070.50" font-size="10.2" textLength="28.8" lengthAdjust="spacingAndGlyphs" stroke="#111" stroke-width="0.45">G-CSF</text>
</svg>
</body></html>
